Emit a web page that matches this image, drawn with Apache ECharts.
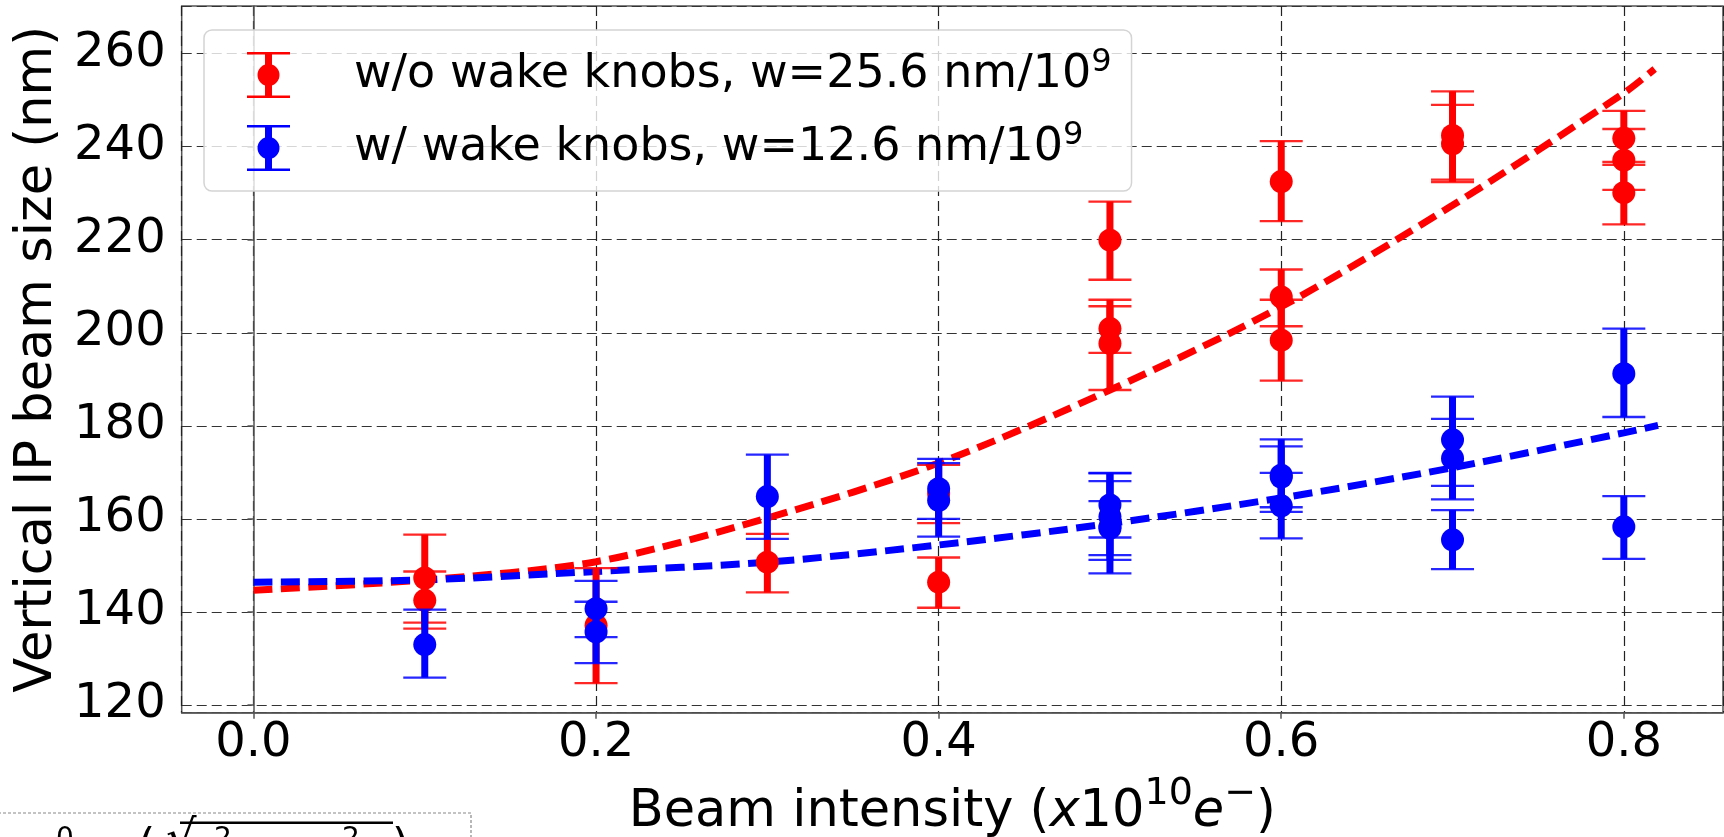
<!DOCTYPE html>
<html><head><meta charset="utf-8">
<script src="https://cdn.jsdelivr.net/npm/echarts@6/dist/echarts.min.js"></script>
<style>html,body{margin:0;padding:0;background:#fff}#c{width:1724px;height:837px}</style>
</head><body><div id="c"></div>
<script>
// ---------- data ----------
const seriesNames = ['w/o wake knobs, w=25.6 nm/10^9', 'w/ wake knobs, w=12.6 nm/10^9'];
const legendBase = ['w/o wake knobs, w=25.6 nm/10', 'w/ wake knobs, w=12.6 nm/10'];
const legendExp = '9';
const yTitle = 'Vertical IP beam size (nm)';

// measurements without wake knobs (red)
const redX  = [0.1, 0.1, 0.2, 0.3, 0.4, 0.4, 0.5, 0.5, 0.5, 0.6, 0.6, 0.6, 0.7, 0.7, 0.8, 0.8, 0.8];
const redY  = [147.3, 142.5, 137.1, 150.7, 165.4, 146.4, 219.9, 200.9, 197.7, 232.5, 207.7, 198.4, 242.4, 240.6, 241.8, 237.1, 230.1];
const redLo = [137.7, 136.4, 124.7, 144.2, 159.1, 140.9, 211.4, 195.7, 187.7, 224.0, 201.4, 189.7, 232.9, 232.4, 236.1, 230.7, 223.3];
const redHi = [156.6, 148.7, 149.4, 156.8, 171.6, 151.7, 228.2, 205.7, 207.1, 241.2, 213.6, 207.1, 251.9, 249.0, 247.7, 243.8, 236.7];

// measurements with wake knobs (blue)
const blueX  = [0.1, 0.2, 0.2, 0.3, 0.4, 0.4, 0.5, 0.5, 0.5, 0.5, 0.6, 0.6, 0.6, 0.7, 0.7, 0.7, 0.8, 0.8];
const blueY  = [133.0, 140.7, 135.7, 164.8, 166.5, 164.0, 163.0, 160.5, 158.3, 158.0, 169.4, 169.0, 162.8, 177.0, 173.0, 155.5, 191.2, 158.3];
const blueLo = [125.9, 134.6, 129.0, 155.7, 160.0, 156.2, 156.0, 151.2, 148.3, 152.2, 161.5, 162.5, 155.8, 167.1, 164.2, 149.2, 181.9, 151.4];
const blueHi = [140.5, 146.7, 142.2, 173.8, 172.9, 172.0, 169.9, 169.8, 168.1, 163.8, 177.1, 175.6, 169.9, 186.3, 181.5, 161.9, 200.9, 164.9];

// fitted curves
const fitRedX  = [0, 0.1, 0.2, 0.3, 0.4, 0.5, 0.6, 0.7, 0.8, 0.818];
const fitRedY  = [144.65, 146.9, 150.8, 160.2, 172.0, 187.7, 205.6, 227.4, 251.5, 256.7];
const fitBlueX = [0, 0.1, 0.2, 0.3, 0.4, 0.5, 0.6, 0.7, 0.8, 0.82];
const fitBlueY = [146.4, 146.9, 148.7, 150.7, 154.4, 159.0, 164.5, 171.0, 178.5, 180.1];

// ---------- chart ----------
const FONT = 'DejaVu Sans';
const RED = '#ff0000', BLUE = '#0000ff';
const zip2 = (a, b) => a.map((v, i) => [v, b[i]]);
const zip3 = (a, b, c) => a.map((v, i) => [v, b[i], c[i]]);

function errRender(color) {
  return function (params, api) {
    const x = api.value(0), lo = api.value(1), hi = api.value(2);
    const pLo = api.coord([x, lo]), pHi = api.coord([x, hi]);
    const cap = 21.5;
    return {
      type: 'group',
      children: [
        { type: 'line', shape: { x1: pLo[0], y1: pLo[1], x2: pHi[0], y2: pHi[1] }, style: { stroke: color, lineWidth: 7 } },
        { type: 'line', shape: { x1: pLo[0] - cap, y1: pLo[1], x2: pLo[0] + cap, y2: pLo[1] }, style: { stroke: color, lineWidth: 2.3, opacity: 0.85 } },
        { type: 'line', shape: { x1: pHi[0] - cap, y1: pHi[1], x2: pHi[0] + cap, y2: pHi[1] }, style: { stroke: color, lineWidth: 2.3, opacity: 0.85 } }
      ]
    };
  };
}

const ICON = 'path://M0 0H43V2.5H0Z M0 43.5H43V46H0Z M18 0H25V46H18Z M10.5 23A11 11 0 1 1 32.5 23A11 11 0 1 1 10.5 23Z';

const chart = echarts.init(document.getElementById('c'), null, { renderer: 'canvas' });
const option = {
  animation: false,
  backgroundColor: '#fff',
  grid: {
    left: 181.7, right: 1, top: 6, bottom: 124.3,
    show: true, borderColor: '#555', borderWidth: 1.5, backgroundColor: 'transparent',
    containLabel: false, outerBoundsMode: 'none'
  },
  xAxis: {
    type: 'value', min: -0.0419, max: 0.8579, minInterval: 0.2, maxInterval: 0.2,
    name: '{n|Beam intensity (}{i|x}{n|10}{s|10}{i|e}{s|−}{n|)}',
    nameLocation: 'middle', nameGap: 75, nameMoveOverlap: false,
    nameTextStyle: {
      fontFamily: FONT, fontSize: 51, color: '#000',
      rich: {
        i: { fontFamily: FONT, fontSize: 51, fontStyle: 'italic', color: '#000', lineHeight: 51 },
        s: { fontFamily: FONT, fontSize: 38, color: '#000', verticalAlign: 'bottom', padding: [0, 0, 26, 0], lineHeight: 51 },
        n: { fontFamily: FONT, fontSize: 51, color: '#000', lineHeight: 51 }
      }
    },
    axisLine: { show: true, onZero: false, lineStyle: { color: '#555', width: 1.5 } },
    axisTick: { show: true, length: 6, lineStyle: { color: '#555', width: 1.5 } },
    axisLabel: {
      fontFamily: FONT, fontSize: 48, color: '#000', margin: 7,
      showMinLabel: false, showMaxLabel: false,
      formatter: v => v.toFixed(1)
    },
    splitLine: { show: true, lineStyle: { color: '#222', width: 1.2, type: [10, 5] } }
  },
  yAxis: {
    type: 'value', min: 118.35, max: 270.23, minInterval: 20, maxInterval: 20,
    name: yTitle, nameLocation: 'middle', nameGap: 118, nameRotate: 90, nameMoveOverlap: false,
    nameTextStyle: { fontFamily: FONT, fontSize: 51, color: '#000' },
    axisLine: { show: true, lineStyle: { color: '#555', width: 1.5 } },
    axisTick: { show: true, length: 6, lineStyle: { color: '#555', width: 1.5 } },
    axisLabel: {
      fontFamily: FONT, fontSize: 48, color: '#000', margin: 16,
      showMinLabel: false, showMaxLabel: false,
      formatter: v => String(Math.round(v))
    },
    splitLine: { show: true, lineStyle: { color: '#333', width: 1.2, type: [10, 5] } }
  },
  legend: {
    left: 204, top: 30, orient: 'vertical',
    padding: [17, 20, 20, 43],
    itemWidth: 43, itemHeight: 46, itemGap: 22,
    backgroundColor: 'rgba(255,255,255,0.8)', borderColor: '#d4d4d4', borderWidth: 1.5, borderRadius: 8,
    data: [{ name: seriesNames[0], icon: ICON }, { name: seriesNames[1], icon: ICON }],
    formatter: name => '{g|}{b|' + legendBase[seriesNames.indexOf(name)] + '}{s|' + legendExp + '}',
    textStyle: {
      fontFamily: FONT, fontSize: 46, color: '#000',
      rich: {
        g: { width: 59 },
        b: { fontFamily: FONT, fontSize: 46, color: '#000', lineHeight: 46 },
        s: { fontFamily: FONT, fontSize: 32, color: '#000', verticalAlign: 'bottom', padding: [0, 0, 19, 0], lineHeight: 46 }
      }
    }
  },
  series: [
    { type: 'line', name: 'fit red', data: zip2(fitRedX, fitRedY), smooth: 0.3, showSymbol: false, symbol: 'none', z: 1,
      lineStyle: { color: RED, width: 7, type: [19, 8.5], cap: 'butt' }, itemStyle: { color: RED } },
    { type: 'line', name: 'fit blue', data: zip2(fitBlueX, fitBlueY), smooth: 0.3, showSymbol: false, symbol: 'none', z: 1,
      lineStyle: { color: BLUE, width: 7, type: [19, 8.5], cap: 'butt' }, itemStyle: { color: BLUE } },
    { type: 'custom', name: seriesNames[0], data: zip3(redX, redLo, redHi), renderItem: errRender(RED), z: 2,
      encode: { x: 0, y: [1, 2] }, itemStyle: { color: RED } },
    { type: 'scatter', name: seriesNames[0], data: zip2(redX, redY), symbol: 'circle', symbolSize: 23, z: 3,
      itemStyle: { color: RED, opacity: 1 } },
    { type: 'custom', name: seriesNames[1], data: zip3(blueX, blueLo, blueHi), renderItem: errRender(BLUE), z: 4,
      encode: { x: 0, y: [1, 2] }, itemStyle: { color: BLUE } },
    { type: 'scatter', name: seriesNames[1], data: zip2(blueX, blueY), symbol: 'circle', symbolSize: 23, z: 5,
      itemStyle: { color: BLUE, opacity: 1 } }
  ],
  graphic: [
    { type: 'rect', silent: true, shape: { x: -2, y: 813, width: 473, height: 100 },
      style: { fill: 'none', stroke: '#888', lineWidth: 1.2, lineDash: [3, 2] } },
    { type: 'line', silent: true, shape: { x1: 180, y1: 822.7, x2: 393, y2: 822.7 }, style: { stroke: '#000', lineWidth: 2.5 } },
    { type: 'text', silent: true, left: 22, top: 830, style: { text: 'σ', font: 'italic 40px "DejaVu Sans"', fill: '#000' } },
    { type: 'text', silent: true, left: 56, top: 826, style: { text: '0', font: '28px "DejaVu Sans"', fill: '#000' } },
    { type: 'text', silent: true, left: 84, top: 828, style: { text: '=', font: '40px "DejaVu Sans"', fill: '#000' } },
    { type: 'text', silent: true, left: 138, top: 827, style: { text: '(', font: '44px "DejaVu Sans"', fill: '#000' } },
    { type: 'text', silent: true, left: 166, top: 818, style: { text: '√', font: '48px "DejaVu Sans"', fill: '#000' } },
    { type: 'text', silent: true, left: 214, top: 826, style: { text: '2', font: '28px "DejaVu Sans"', fill: '#000' } },
    { type: 'text', silent: true, left: 342, top: 826, style: { text: '2', font: '28px "DejaVu Sans"', fill: '#000' } },
    { type: 'text', silent: true, left: 392, top: 827, style: { text: ')', font: '44px "DejaVu Sans"', fill: '#000' } }
  ]
};
chart.setOption(option);
</script>
</body></html>
